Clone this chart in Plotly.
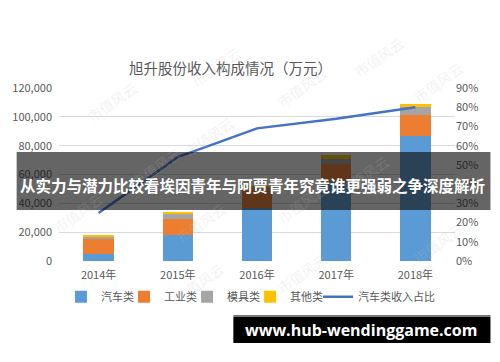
import plotly.graph_objects as go

years = ["2014年", "2015年", "2016年", "2017年", "2018年"]
auto = [4600, 18200, 37000, 55000, 86500]
industrial = [10700, 10900, 12000, 12500, 14500]
mold = [1600, 3300, 2000, 3500, 5600]
other = [1400, 1800, 1000, 2500, 2100]
auto_share = [0.25, 0.54, 0.69, 0.74, 0.80]

left_ticks = [0, 20000, 40000, 60000, 80000, 100000, 120000]
right_ticks = [i / 10 for i in range(10)]

colors = {"汽车类": "#5B9BD5", "工业类": "#ED7D31", "模具类": "#A5A5A5", "其他类": "#FFC000"}

font = "Noto Sans CJK SC, Noto Sans, sans-serif"
legend_names = ["legend", "legend2", "legend3", "legend4", "legend5"]
legend_px = [55, 119, 183, 247, 316]

fig = go.Figure()
series = [("汽车类", auto), ("工业类", industrial), ("模具类", mold), ("其他类", other)]
for i, (name, vals) in enumerate(series):
    fig.add_trace(go.Bar(x=years, y=vals, name=name, marker_color=colors[name],
                         marker_line_width=0, yaxis="y", legend=legend_names[i]))
fig.add_trace(go.Scatter(x=years, y=auto_share, name="汽车类收入占比", mode="lines",
                         line=dict(color="#4472C4", width=2.5), yaxis="y2",
                         legend=legend_names[4]))

legend_cfg = {}
for ln, px in zip(legend_names, legend_px):
    legend_cfg[ln] = dict(orientation="h", x=(px - 53) / 402, xanchor="left", y=-0.206,
                          yanchor="middle", font=dict(size=11, color="#595959", family=font),
                          itemwidth=30, bgcolor="rgba(0,0,0,0)")

fig.update_layout(
    width=500, height=362,
    margin=dict(l=53, r=45, t=88, b=101),
    paper_bgcolor="white", plot_bgcolor="white",
    barmode="stack", bargap=0.615,
    font=dict(family=font, size=11, color="#595959"),
    showlegend=True,
    xaxis=dict(showgrid=False, showline=False, ticks="", tickfont=dict(size=11, color="#595959"),
               ticklabelstandoff=6),
    yaxis=dict(range=[0, 120000], tickvals=left_ticks, tickformat=",", showgrid=True,
               gridcolor="#D9D9D9", gridwidth=1, zeroline=False, showline=False,
               tickfont=dict(size=11, color="#595959"), ticklabelstandoff=6),
    yaxis2=dict(range=[0, 0.9], tickvals=right_ticks, tickformat=".0%", overlaying="y",
                side="right", showgrid=False, zeroline=False, showline=False,
                tickfont=dict(size=11, color="#595959")),
    **legend_cfg,
)

annotations = [
    dict(text="旭升股份收入构成情况（万元）", xref="paper", yref="paper", x=0.433, y=1.121,
         xanchor="center", yanchor="middle", showarrow=False,
         font=dict(size=14.5, color="#595959", family=font)),
]
# faint watermarks
for px, py in [(75, 75), (180, 40), (205, 110), (120, 140), (300, 60), (300, 230), (395, 175),
               (410, 30), (470, 55), (470, 270), (165, 250), (40, 240), (195, 310), (300, 300)]:
    annotations.append(dict(text="市值风云", xref="paper", yref="paper",
                            x=(px - 53) / 402, y=(261 - py) / 173, showarrow=False,
                            textangle=-35, font=dict(size=14, color="rgba(190,190,190,0.2)",
                                                     family=font)))
annotations.append(dict(text="<b>从实力与潜力比较看埃因青年与阿贾青年究竟谁更强弱之争深度解析</b>",
                        xref="paper", yref="paper", x=(250 - 53) / 402, y=(261 - 185) / 173,
                        xanchor="center", yanchor="middle", showarrow=False,
                        font=dict(size=15.5, color="white", family=font)))
annotations.append(dict(text="<b>www.hub-wendinggame.com</b>", xref="paper", yref="paper",
                        x=(360 - 53) / 402, y=(261 - 330) / 173, xanchor="center",
                        yanchor="middle", showarrow=False,
                        font=dict(size=16, color="white", family="Open Sans, sans-serif")))

shapes = [
    dict(type="rect", xref="paper", yref="paper", x0=(10 - 53) / 402, x1=(491 - 53) / 402,
         y0=(261 - 210) / 173, y1=(261 - 152) / 173, fillcolor="rgba(14,14,14,0.64)",
         line_width=0, layer="above"),
    dict(type="rect", xref="paper", yref="paper", x0=(230 - 53) / 402, x1=(491 - 53) / 402,
         y0=(261 - 343) / 173, y1=(261 - 317) / 173, fillcolor="black",
         line_width=0, layer="above"),
    dict(type="rect", xref="paper", yref="paper", x0=(230 - 53) / 402, x1=(491 - 53) / 402,
         y0=(261 - 317) / 173, y1=(261 - 315) / 173, fillcolor="#777777",
         line_width=0, layer="above"),
]
fig.update_layout(annotations=annotations, shapes=shapes)
fig.write_html("out.html")
